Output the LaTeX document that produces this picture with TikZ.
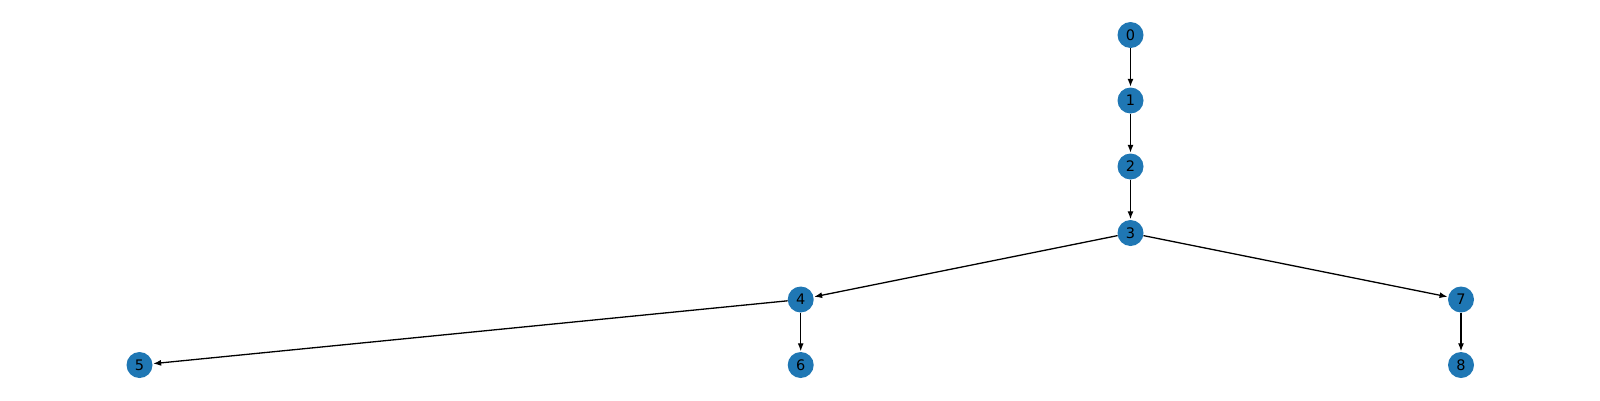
\documentclass[tikz,border=0pt]{standalone}
\usepackage{fontspec}
\setmainfont{DejaVu Sans}
\usetikzlibrary{arrows.meta}
\definecolor{mplblue}{HTML}{1F77B4}
\begin{document}
\begin{tikzpicture}[x=1pt,y=-1pt,
  vtx/.style={circle,fill=mplblue,minimum size=26pt,inner sep=0pt,font=\fontsize{14.5}{15}\selectfont},
  edge/.style={-{Latex[length=8pt,width=6pt]},line width=1.3pt,shorten >=0.5pt}]
\useasboundingbox (0,0) rectangle (1600,400);
\node[vtx] (n0) at (1130.5,35) {0};
\node[vtx] (n1) at (1130.5,100.5) {1};
\node[vtx] (n2) at (1130.5,166.5) {2};
\node[vtx] (n3) at (1130.5,233) {3};
\node[vtx] (n4) at (800.7,299.5) {4};
\node[vtx] (n5) at (139.5,365) {5};
\node[vtx] (n6) at (800.7,365) {6};
\node[vtx] (n7) at (1461,299.5) {7};
\node[vtx] (n8) at (1461,365) {8};
\draw[edge] (n0) -- (n1);
\draw[edge] (n1) -- (n2);
\draw[edge] (n2) -- (n3);
\draw[edge] (n3) -- (n4);
\draw[edge] (n3) -- (n7);
\draw[edge] (n4) -- (n5);
\draw[edge] (n4) -- (n6);
\draw[edge] (n7) -- (n8);
\end{tikzpicture}
\end{document}
